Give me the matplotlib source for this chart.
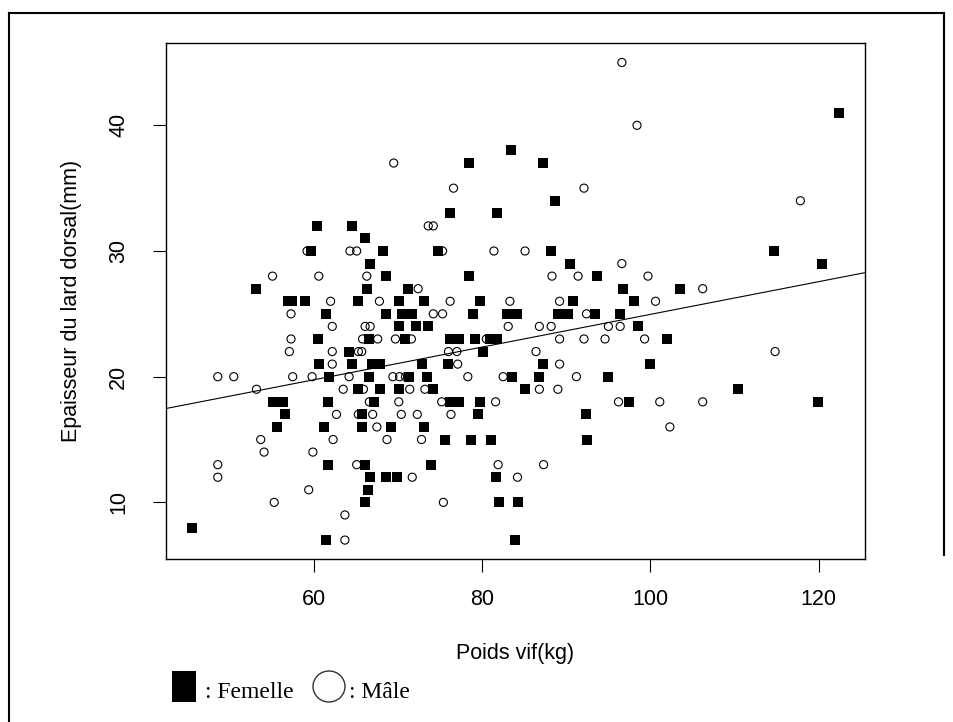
import numpy as np
import matplotlib
matplotlib.use("Agg")
import matplotlib.pyplot as plt
from matplotlib.patches import Rectangle, Ellipse
from matplotlib.lines import Line2D

# values (poids vif kg, lard dorsal mm)
female_weight = [60.4, 64.6, 66.1, 83.4, 78.4, 87.2, 88.7, 76.2, 81.8, 122.4,
                 59.7, 68.2, 74.8, 88.2, 114.7,
                 66.7, 90.4, 120.4,
                 68.6, 78.4, 93.7,
                 53.1, 66.3, 71.2, 96.7, 103.5,
                 56.9, 57.4, 59.0, 65.3, 70.1, 73.1, 79.8, 90.8, 98.0,
                 61.4, 68.6, 70.5, 71.7, 78.9, 83.0, 84.2, 89.0, 90.2, 93.4, 96.4,
                 70.1, 72.2, 73.6, 98.5,
                 60.5, 66.6, 70.8, 76.2, 77.2, 79.2, 80.9, 81.8, 102.0,
                 64.2, 80.1,
                 60.6, 64.5, 66.9, 67.9, 72.9, 76.0, 87.2, 100.0,
                 61.8, 66.6, 71.3, 73.4, 83.6, 86.7, 94.9,
                 65.3, 67.9, 70.1, 74.2, 85.1, 110.4,
                 55.2, 56.3, 61.7, 67.2, 76.2, 77.2, 79.8, 97.4, 119.9,
                 56.6, 65.7, 79.5, 92.3,
                 55.6, 61.2, 65.7, 69.2, 73.1,
                 75.6, 78.7, 81.1, 92.5,
                 61.7, 66.1, 73.9,
                 66.7, 68.6, 69.9, 81.6,
                 66.5,
                 66.1, 82.0, 84.3,
                 45.5,
                 61.5, 83.9]
female_backfat = [32, 32, 31, 38, 37, 37, 34, 33, 33, 41,
                  30, 30, 30, 30, 30,
                  29, 29, 29,
                  28, 28, 28,
                  27, 27, 27, 27, 27,
                  26, 26, 26, 26, 26, 26, 26, 26, 26,
                  25, 25, 25, 25, 25, 25, 25, 25, 25, 25, 25,
                  24, 24, 24, 24,
                  23, 23, 23, 23, 23, 23, 23, 23, 23,
                  22, 22,
                  21, 21, 21, 21, 21, 21, 21, 21,
                  20, 20, 20, 20, 20, 20, 20,
                  19, 19, 19, 19, 19, 19,
                  18, 18, 18, 18, 18, 18, 18, 18, 18,
                  17, 17, 17, 17,
                  16, 16, 16, 16, 16,
                  15, 15, 15, 15,
                  13, 13, 13,
                  12, 12, 12, 12,
                  11,
                  10, 10, 10,
                  8,
                  7, 7]

male_weight = [69.5, 96.6, 76.6, 92.1, 73.6, 74.2, 98.4, 117.8,
               59.2, 64.3, 65.1, 75.3, 81.4, 85.1,
               96.6,
               55.1, 60.6, 66.3, 88.3, 91.4, 99.7,
               72.4, 106.2,
               62.0, 67.8, 76.2, 83.3, 89.2, 100.6,
               57.3, 74.2, 75.3, 92.4,
               62.2, 66.1, 66.7, 83.1, 86.8, 88.2, 95.0, 96.4,
               57.3, 65.8, 67.6, 69.7, 71.6, 80.5, 89.2, 92.1, 94.6, 99.3,
               57.1, 62.2, 65.3, 65.7, 76.0, 77.0, 86.4, 114.8,
               62.2, 77.1, 89.2,
               48.6, 50.5, 57.5, 59.8, 64.2, 69.4, 70.2, 70.9, 78.3, 82.5, 91.2,
               53.2, 63.5, 65.9, 71.4, 73.2, 86.8, 89.0,
               66.6, 70.1, 75.2, 81.6, 96.2, 101.1, 106.2,
               62.7, 65.3, 67.0, 70.4, 72.3, 76.3,
               67.5, 102.3,
               53.7, 62.3, 68.7, 72.8,
               54.1, 59.9,
               48.6, 65.1, 81.9, 87.3,
               48.6, 71.7, 84.2,
               59.4,
               55.3, 75.4,
               63.7,
               63.7]
male_backfat = [37, 45, 35, 35, 32, 32, 40, 34,
                30, 30, 30, 30, 30, 30,
                29,
                28, 28, 28, 28, 28, 28,
                27, 27,
                26, 26, 26, 26, 26, 26,
                25, 25, 25, 25,
                24, 24, 24, 24, 24, 24, 24, 24,
                23, 23, 23, 23, 23, 23, 23, 23, 23, 23,
                22, 22, 22, 22, 22, 22, 22, 22,
                21, 21, 21,
                20, 20, 20, 20, 20, 20, 20, 20, 20, 20, 20,
                19, 19, 19, 19, 19, 19, 19,
                18, 18, 18, 18, 18, 18, 18,
                17, 17, 17, 17, 17, 17,
                16, 16,
                15, 15, 15, 15,
                14, 14,
                13, 13, 13, 13,
                12, 12, 12,
                11,
                10, 10,
                9,
                7]

# abline
fit_intercept = 11.94
fit_slope = 0.1302

x_ticks = [60, 80, 100, 120]
y_ticks = [10, 20, 30, 40]

W, H = 954, 722
sans = "Liberation Sans"
serif = "Liberation Serif"

fig = plt.figure(figsize=(W / 100, H / 100), dpi=100)
ax = fig.add_axes([166 / W, 1 - 559.3 / H, (865 - 166) / W, (559.3 - 42.5) / H])

ax.scatter(female_weight, female_backfat, marker="s", s=44, c="black",
           linewidths=0, zorder=3)
ax.scatter(male_weight, male_backfat, marker="o", s=34, facecolors="none",
           edgecolors="black", linewidths=0.8, zorder=4)
ax.axline((0, fit_intercept), slope=fit_slope, color="black", lw=0.8, zorder=2)

ax.set_xlim(42.45, 125.48)
ax.set_ylim(5.47, 46.59)
ax.set_xticks(x_ticks)
ax.set_yticks(y_ticks)
ax.tick_params(direction="out", length=9.4, width=0.8, labelsize=15.5)
ax.tick_params(axis="x", pad=12)
ax.tick_params(axis="y", pad=17)
for lbl in ax.get_xticklabels() + ax.get_yticklabels():
    lbl.set_family(sans)
plt.setp(ax.get_yticklabels(), rotation=90, va="center")
for sp in ax.spines.values():
    sp.set_linewidth(1.0)

fig.text(515.5 / W, 1 - 654 / H, "Poids vif(kg)", family=sans, fontsize=15.5,
         ha="center", va="center")
fig.text(71.5 / W, 1 - 301 / H, "Epaisseur du lard dorsal(mm)", family=sans,
         fontsize=15.5, rotation=90, ha="center", va="center")

# hand drawn legend below the plot
fig.add_artist(Rectangle((172 / W, 1 - 702 / H), 24 / W, 31 / H,
                         transform=fig.transFigure, facecolor="black",
                         edgecolor="none"))
fig.text(205 / W, 1 - 698 / H, ": Femelle", family=serif, fontsize=17,
         va="baseline")
fig.add_artist(Ellipse((329 / W, 1 - 686.5 / H), 32 / W, 31 / H,
                       transform=fig.transFigure, facecolor="none",
                       edgecolor="#333333", lw=1.0))
fig.text(349 / W, 1 - 698 / H, ": Mâle", family=serif, fontsize=17,
         va="baseline")

# outer frame of the picture
fig.add_artist(Line2D([9 / W, 9 / W], [0, 1 - 13 / H], transform=fig.transFigure,
                      color="black", lw=1.5))
fig.add_artist(Line2D([9 / W, 944 / W], [1 - 13 / H, 1 - 13 / H],
                      transform=fig.transFigure, color="black", lw=1.5))
fig.add_artist(Line2D([944 / W, 944 / W], [1 - 13 / H, 1 - 555 / H],
                      transform=fig.transFigure, color="black", lw=1.5))

fig.savefig("out.png", dpi=100)
